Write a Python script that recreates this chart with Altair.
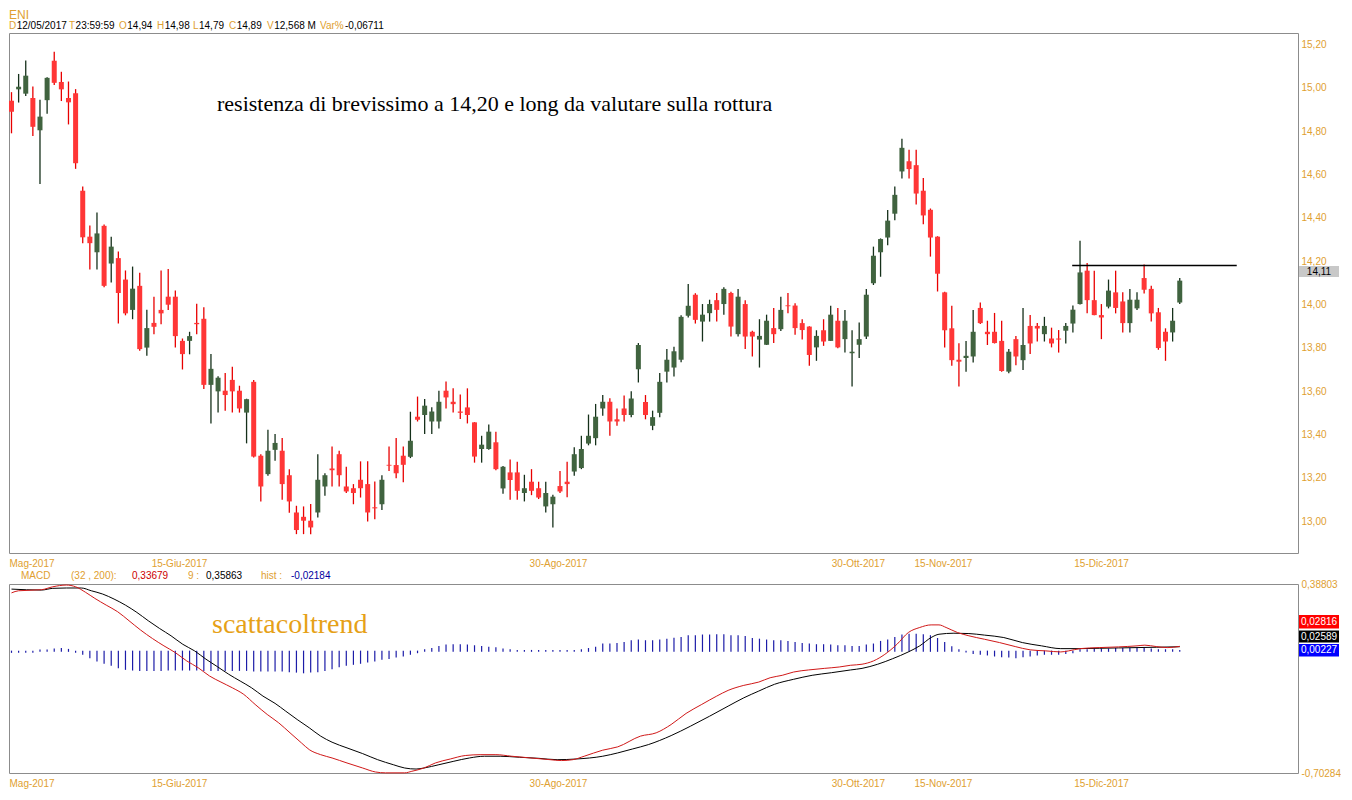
import altair as alt
import pandas as pd

# ---------------- candle data (index 0 = 12/05/2017) ----------------
opens = [14.94, 14.993, 14.973, 14.953, 14.804, 14.943, 15.125, 15.027, 14.953, 14.975,
         14.525, 14.313, 14.241, 14.363, 14.189, 14.214, 14.115, 13.975, 14.086, 13.801,
         13.915, 13.975, 14.036, 14.036, 13.832, 13.832, 13.915, 13.934, 13.629, 13.599,
         13.602, 13.652, 13.602, 13.501, 13.643, 13.302, 13.217, 13.329, 13.325, 13.212,
         13.040, 13.020, 13.002, 13.040, 13.160, 13.243, 13.309, 13.160, 13.152, 13.191,
         13.171, 13.064, 13.078, 13.260, 13.259, 13.302, 13.297, 13.482, 13.490, 13.460,
         13.460, 13.602, 13.551, 13.506, 13.525, 13.456, 13.333, 13.333, 13.364, 13.151,
         13.225, 13.225, 13.130, 13.182, 13.152, 13.068, 13.078, 13.162, 13.182, 13.229,
         13.245, 13.358, 13.383, 13.520, 13.551, 13.47, 13.52, 13.49, 13.701, 13.55,
         13.44, 13.50, 13.690, 13.709, 13.745, 13.948, 14.045, 13.921, 13.960, 14.020,
         14.002, 14.053, 13.863, 14.002, 13.874, 13.838, 13.814, 13.891, 13.886, 13.996,
         13.995, 13.914, 13.898, 13.802, 13.881, 13.832, 13.925, 13.840, 13.775, 13.814,
         13.852, 14.098, 14.241, 14.309, 14.419, 14.614, 14.661, 14.643, 14.525, 14.437,
         14.313, 14.056, 13.890, 13.745, 13.753, 13.760, 13.984, 13.874, 13.874, 13.832,
         13.690, 13.840, 13.743, 13.901, 13.901, 13.863, 13.843, 13.843, 13.879, 13.912,
         14.002, 14.156, 14.020, 13.951, 13.990, 14.056, 14.014, 13.914, 13.982, 14.122,
         14.072, 13.964, 13.874, 13.871, 14.009]
highs = [14.98, 15.064, 15.126, 15.006, 14.945, 15.049, 15.167, 15.074, 15.029, 14.994,
         14.544, 14.364, 14.424, 14.369, 14.313, 14.245, 14.157, 14.175, 14.146, 13.976,
         14.036, 14.157, 14.164, 14.064, 13.843, 13.874, 14.003, 13.987, 13.772, 13.669,
         13.684, 13.713, 13.625, 13.565, 13.651, 13.309, 13.422, 13.402, 13.384, 13.240,
         13.071, 13.068, 13.079, 13.309, 13.221, 13.344, 13.325, 13.251, 13.171, 13.276,
         13.276, 13.183, 13.212, 13.344, 13.384, 13.344, 13.505, 13.575, 13.564, 13.526,
         13.602, 13.644, 13.613, 13.584, 13.613, 13.457, 13.394, 13.446, 13.413, 13.255,
         13.284, 13.274, 13.214, 13.240, 13.182, 13.182, 13.122, 13.232, 13.274, 13.341,
         13.394, 13.492, 13.541, 13.582, 13.567, 13.52, 13.58, 13.60, 13.822, 13.582,
         13.51, 13.684, 13.795, 13.805, 13.950, 14.094, 14.052, 14.002, 14.022, 14.053,
         14.079, 14.059, 14.072, 14.020, 13.879, 13.932, 13.953, 13.984, 14.036, 14.053,
         14.006, 13.932, 13.900, 13.881, 13.932, 13.994, 13.984, 13.975, 13.881, 13.917,
         14.072, 14.267, 14.305, 14.436, 14.544, 14.765, 14.714, 14.714, 14.584, 14.443,
         14.315, 14.059, 13.994, 13.821, 13.832, 13.975, 14.009, 13.925, 13.961, 13.925,
         13.795, 13.855, 13.984, 13.951, 13.914, 13.943, 13.893, 13.882, 13.914, 13.995,
         14.294, 14.192, 14.156, 14.002, 14.115, 14.156, 14.056, 14.072, 14.056, 14.184,
         14.087, 13.984, 13.890, 13.984, 14.122]
lows = [14.79, 14.932, 14.962, 14.778, 14.556, 14.880, 15.013, 14.939, 14.831, 14.626,
        14.283, 14.161, 14.161, 14.079, 14.101, 13.912, 13.950, 13.932, 13.787, 13.763,
        13.863, 13.909, 13.975, 13.801, 13.70, 13.77, 13.863, 13.61, 13.451, 13.501,
        13.509, 13.501, 13.501, 13.359, 13.294, 13.091, 13.209, 13.279, 13.099, 13.039,
        12.940, 12.940, 12.940, 13.017, 13.117, 13.160, 13.160, 13.130, 13.078, 13.109,
        12.998, 13.009, 13.051, 13.232, 13.198, 13.179, 13.291, 13.460, 13.402, 13.402,
        13.428, 13.520, 13.501, 13.471, 13.451, 13.270, 13.270, 13.329, 13.235, 13.127,
        13.099, 13.099, 13.091, 13.120, 13.102, 13.040, 12.971, 13.130, 13.110, 13.209,
        13.240, 13.350, 13.350, 13.487, 13.394, 13.44, 13.46, 13.48, 13.640, 13.47,
        13.42, 13.48, 13.640, 13.668, 13.733, 13.940, 13.912, 13.829, 13.921, 13.921,
        13.953, 13.852, 13.852, 13.794, 13.760, 13.709, 13.813, 13.822, 13.878, 13.959,
        13.860, 13.838, 13.717, 13.740, 13.809, 13.831, 13.798, 13.778, 13.621, 13.753,
        13.841, 14.090, 14.128, 14.273, 14.389, 14.582, 14.582, 14.462, 14.370, 14.221,
        14.060, 13.802, 13.717, 13.621, 13.690, 13.732, 13.910, 13.813, 13.820, 13.690,
        13.683, 13.720, 13.698, 13.771, 13.829, 13.829, 13.802, 13.778, 13.820, 13.871,
        14.000, 13.959, 13.950, 13.840, 13.982, 13.959, 13.871, 13.871, 13.975, 14.051,
        13.921, 13.791, 13.740, 13.829, 14.002]
closes = [14.89, 15.005, 15.056, 14.820, 14.867, 15.046, 15.023, 14.993, 14.933, 14.652,
          14.310, 14.283, 14.328, 14.086, 14.267, 14.053, 13.959, 14.073, 13.794, 13.891,
          13.897, 13.959, 13.999, 13.854, 13.771, 13.854, 13.909, 13.629, 13.703, 13.662,
          13.582, 13.599, 13.520, 13.563, 13.298, 13.160, 13.325, 13.361, 13.171, 13.091,
          12.959, 13.002, 12.971, 13.191, 13.212, 13.235, 13.212, 13.137, 13.130, 13.152,
          13.040, 13.059, 13.191, 13.256, 13.221, 13.260, 13.371, 13.468, 13.533, 13.506,
          13.551, 13.571, 13.540, 13.500, 13.490, 13.298, 13.353, 13.413, 13.240, 13.251,
          13.190, 13.140, 13.152, 13.140, 13.109, 13.130, 13.113, 13.137, 13.171, 13.309,
          13.333, 13.394, 13.482, 13.551, 13.460, 13.46, 13.49, 13.566, 13.813, 13.49,
          13.48, 13.643, 13.745, 13.784, 13.943, 13.994, 13.929, 13.953, 14.002, 13.975,
          14.072, 13.898, 14.036, 13.852, 13.852, 13.855, 13.925, 13.863, 13.975, 13.992,
          13.891, 13.882, 13.767, 13.855, 13.829, 13.953, 13.802, 13.925, 13.782, 13.840,
          14.045, 14.225, 14.302, 14.387, 14.506, 14.723, 14.625, 14.512, 14.411, 14.309,
          14.142, 13.881, 13.743, 13.736, 13.763, 13.874, 13.914, 13.863, 13.822, 13.693,
          13.782, 13.760, 13.813, 13.820, 13.889, 13.901, 13.820, 13.838, 13.901, 13.976,
          14.148, 14.020, 13.951, 13.940, 14.064, 13.984, 13.914, 14.022, 14.022, 14.068,
          13.959, 13.799, 13.829, 13.925, 14.11]

# resistance line drawn on the chart
resist_level = 14.18
resist_from = 148.9
resist_to = 172.0

# axis ticks / labels
date_pos = [2.81, 23.51, 76.72, 118.83, 130.76, 152.95]
date_labels = ["Mag-2017", "15-Giu-2017", "30-Ago-2017", "30-Ott-2017", "15-Nov-2017", "15-Dic-2017"]
price_ticks = [13.0, 13.1, 13.2, 13.3, 13.4, 13.5, 13.6, 13.7, 13.8, 13.9, 14.0,
               14.1, 14.2, 14.3, 14.4, 14.5, 14.6, 14.7, 14.8, 14.9, 15.0, 15.1, 15.2]
macd_ticks = [-0.70284, 0.38803]

# ---------------- MACD (32,200,9) ----------------
macd_pts = [(0, 0.33679), (1.0, 0.349), (4.2, 0.355), (5.8, 0.372), (7.7, 0.382), (9.0, 0.372),
            (10.4, 0.340), (11.7, 0.305), (13.3, 0.266), (14.9, 0.228), (16.5, 0.176), (18.1, 0.123),
            (19.8, 0.073), (21.4, 0.031), (23.0, -0.008), (24.6, -0.056), (26.2, -0.095), (27.8, -0.143),
            (29.4, -0.178), (31.0, -0.211), (32.6, -0.249), (34.2, -0.307), (35.9, -0.365), (37.5, -0.413),
            (39.1, -0.471), (40.7, -0.529), (41.8, -0.568), (43.4, -0.597), (45.0, -0.616), (47.1, -0.645),
            (49.3, -0.674), (51.1, -0.697), (52.5, -0.702), (55.2, -0.702), (56.2, -0.693), (57.9, -0.674),
            (59.5, -0.645), (61.6, -0.622), (63.7, -0.602), (65.9, -0.597), (68.0, -0.597), (70.2, -0.606),
            (72.9, -0.616), (75.6, -0.626), (77.2, -0.631), (78.8, -0.626), (80.4, -0.606), (83.0, -0.571),
            (85.1, -0.552), (88.3, -0.490), (90.5, -0.471), (92.6, -0.423), (94.7, -0.359), (96.9, -0.307),
            (99.0, -0.259), (100.6, -0.226), (102.8, -0.197), (104.9, -0.178), (106.5, -0.153), (108.2, -0.139),
            (109.8, -0.120), (111.9, -0.108), (114.1, -0.099), (116.2, -0.091), (117.8, -0.081), (119.4, -0.075),
            (121.0, -0.056), (122.6, -0.018), (124.3, 0.040), (125.9, 0.108), (127.5, 0.137), (129.1, 0.152),
            (130.2, 0.152), (131.2, 0.137), (132.8, 0.108), (134.4, 0.089), (136.6, 0.069), (138.7, 0.050),
            (140.9, 0.027), (143.0, 0.008), (145.2, 0.002), (147.3, -0.004), (148.4, 0.002), (150.0, 0.015),
            (152.7, 0.021), (155.4, 0.025), (158.0, 0.031), (159.1, 0.035), (160.7, 0.027), (162.3, 0.021),
            (164, 0.02816)]
signal_pts = [(0, 0.35863), (4.2, 0.353), (5.8, 0.363), (7.7, 0.365), (9.8, 0.365), (11.2, 0.349),
              (12.8, 0.330), (14.4, 0.301), (16.0, 0.266), (17.6, 0.224), (19.2, 0.176), (20.8, 0.131),
              (22.4, 0.089), (24.05, 0.040), (25.7, 0.002), (27.3, -0.046), (28.9, -0.089), (30.5, -0.133),
              (32.1, -0.172), (33.7, -0.211), (35.3, -0.259), (37.0, -0.301), (38.5, -0.346), (40.1, -0.394),
              (41.8, -0.442), (43.4, -0.490), (45.0, -0.525), (47.1, -0.558), (49.3, -0.591), (51.4, -0.626),
              (53.6, -0.655), (55.2, -0.674), (56.8, -0.680), (57.9, -0.674), (60.0, -0.655), (62.1, -0.635),
              (64.3, -0.616), (66.4, -0.606), (68.6, -0.606), (71.3, -0.612), (74.0, -0.618), (76.6, -0.626),
              (79.3, -0.622), (83.0, -0.606), (85.1, -0.587), (87.2, -0.564), (89.4, -0.539), (92.6, -0.487),
              (95.3, -0.433), (98.0, -0.375), (100.6, -0.317), (102.8, -0.269), (104.9, -0.230), (107.1, -0.191),
              (109.8, -0.162), (112.4, -0.139), (115.1, -0.124), (117.8, -0.108), (119.4, -0.099), (121.6, -0.075),
              (123.7, -0.043), (125.9, -0.004), (127.5, 0.031), (129.1, 0.079), (130.2, 0.098), (132.3, 0.104),
              (134.4, 0.102), (136.6, 0.093), (139.3, 0.079), (141.9, 0.050), (144.6, 0.031), (147.3, 0.015),
              (150.0, 0.015), (152.7, 0.017), (155.4, 0.019), (158.0, 0.021), (160.7, 0.023), (164, 0.02589)]
hist = [-0.006, -0.006, -0.006, -0.006, 0.006, 0.006, 0.012, 0.015, 0.010, -0.006,
        -0.017, -0.037, -0.056, -0.069, -0.081, -0.095, -0.104, -0.108, -0.110, -0.110,
        -0.110, -0.110, -0.108, -0.108, -0.108, -0.108, -0.108, -0.110, -0.110, -0.110,
        -0.110, -0.110, -0.110, -0.110, -0.114, -0.114, -0.114, -0.114, -0.114, -0.118,
        -0.120, -0.124, -0.120, -0.118, -0.110, -0.100, -0.089, -0.081, -0.075, -0.069,
        -0.062, -0.056, -0.046, -0.041, -0.033, -0.027, -0.017, -0.008, 0.008, 0.015,
        0.027, 0.035, 0.037, 0.037, 0.035, 0.031, 0.027, 0.023, 0.019, 0.012,
        0.008, 0.004, 0.004, 0.004, 0.004, 0.004, 0.004, 0.004, 0.004, 0.004,
        0.008, 0.015, 0.023, 0.041, 0.041, 0.044, 0.050, 0.060, 0.064, 0.060,
        0.060, 0.064, 0.069, 0.075, 0.079, 0.089, 0.089, 0.093, 0.093, 0.095,
        0.095, 0.089, 0.089, 0.085, 0.073, 0.069, 0.064, 0.060, 0.060, 0.056,
        0.050, 0.044, 0.041, 0.037, 0.037, 0.035, 0.031, 0.031, 0.027, 0.027,
        0.035, 0.041, 0.056, 0.064, 0.079, 0.093, 0.098, 0.098, 0.095, 0.089,
        0.073, 0.050, 0.025, 0.008, -0.004, -0.012, -0.017, -0.021, -0.027, -0.031,
        -0.033, -0.037, -0.031, -0.027, -0.021, -0.017, -0.017, -0.017, -0.012, -0.008,
        0.008, 0.008, 0.012, 0.012, 0.012, 0.015, 0.015, 0.015, 0.015, 0.015,
        0.012, 0.008, 0.008, 0.008, 0.004]

macd_first, signal_first, hist_first = 0.33679, 0.35863, -0.02184
macd_last, signal_last, hist_last = 0.02816, 0.02589, 0.00227

# header of the quote
hdr_date, hdr_time = "12/05/2017", "23:59:59"
hdr_o, hdr_h, hdr_l, hdr_c = 14.94, 14.98, 14.79, 14.89
hdr_vol = "12,568 M"
hdr_var = -0.06711

annotation = "resistenza di brevissimo a 14,20 e long da valutare sulla rottura"
watermark = "scattacoltrend"

# ---------------- styling ----------------
W, H1, H2 = 1289, 520, 189
XDOM = [-0.35, 180.6]
ORANGE = "#E0A030"
FONT = "Liberation Sans"
SERIF = "Liberation Serif"
UP_BODY, UP_WICK = "#40633F", "#15301A"
DN_BODY, DN_WICK = "#FF3636", "#E80000"


def it(v, d):
    s = f"{abs(v):.{d}f}".replace(".", ",")
    return ("-" if v < 0 else "") + s


n = min(len(opens), len(highs), len(lows), len(closes))
candles = pd.DataFrame({"i": list(range(n)), "o": opens[:n], "h": highs[:n],
                        "l": lows[:n], "c": closes[:n]})
one = pd.DataFrame({"k": [0]})

label_expr = "''"
for p, lab in reversed(list(zip(date_pos, date_labels))):
    label_expr = f"abs(datum.value - ({p})) < 0.5 ? '{lab}' : ({label_expr})"

xscale = alt.Scale(domain=XDOM, nice=False, zero=False, padding=0)


def xaxis(pad):
    return alt.Axis(values=date_pos, labelExpr=label_expr, title=None, ticks=False, domain=False,
                    grid=False, labelColor=ORANGE, labelFont=FONT, labelFontSize=10,
                    labelPadding=pad, labelFlush=False, labelOverlap=False)


def txt(s, x, y, color, size=10, font=FONT, baseline="middle", align="left"):
    return alt.Chart(one).mark_text(text=s, align=align, baseline=baseline, font=font,
                                    fontSize=size, color=color).encode(
        x=alt.value(x), y=alt.value(y))


# ---------------- price panel ----------------
yaxis_top = alt.Axis(values=price_ticks, orient="right", title=None, ticks=False, domain=False,
                     grid=False, labelColor=ORANGE, labelFont=FONT, labelFontSize=10,
                     labelPadding=3, labelOverlap=False,
                     labelExpr="replace(format(datum.value, '.2f'), '.', ',')")
yscale_top = alt.Scale(domain=[12.853, 15.253], nice=False, zero=False, padding=0)

is_up = "datum.c >= datum.o"
base = alt.Chart(candles)
wicks = base.mark_rule(strokeWidth=1.3).encode(
    x=alt.X("i:Q", scale=xscale, axis=xaxis(5), title=None),
    y=alt.Y("l:Q", scale=yscale_top, axis=yaxis_top, title=None),
    y2="h:Q",
    color=alt.condition(is_up, alt.value(UP_WICK), alt.value(DN_WICK)))
bodies = base.mark_bar(size=5).encode(
    x=alt.X("i:Q", title=None), y=alt.Y("o:Q", title=None), y2="c:Q",
    color=alt.condition(is_up, alt.value(UP_BODY), alt.value(DN_BODY)))

res_df = pd.DataFrame({"x1": [resist_from], "x2": [resist_to], "y": [resist_level]})
resist = alt.Chart(res_df).mark_rule(color="black", strokeWidth=1.3).encode(
    x=alt.X("x1:Q", title=None), x2="x2:Q", y=alt.Y("y:Q", title=None))

annot = txt(annotation, 208, 78, "black", size=22, font=SERIF, baseline="alphabetic")

hdr_pieces = [("D", 0, ORANGE), (hdr_date, 7.7, "black"), ("T", 60, ORANGE), (hdr_time, 66.6, "black"),
              ("O", 110, ORANGE), (it(hdr_o, 2), 118.3, "black"), ("H", 148, ORANGE), (it(hdr_h, 2), 155.7, "black"),
              ("L", 184, ORANGE), (it(hdr_l, 2), 190, "black"), ("C", 220, ORANGE), (it(hdr_c, 2), 227.7, "black"),
              ("V", 258, ORANGE), (hdr_vol, 265.2, "black"), ("Var%", 311, ORANGE), (it(hdr_var, 5), 336, "black")]
header = [txt("ENI", 0, -23, ORANGE, size=12, baseline="top")]
header += [txt(s, x, -12, c, baseline="top") for s, x, c in hdr_pieces]

last_box = alt.Chart(one).mark_rect(color="#C8C8C8").encode(
    x=alt.value(1290), x2=alt.value(1330), y=alt.value(233), y2=alt.value(244))
last_txt = txt(it(closes[n - 1], 2), 1310, 238.5, "black", align="center")

top = alt.layer(wicks, bodies, resist, annot, *header, last_box, last_txt).properties(width=W, height=H1)

# ---------------- MACD panel ----------------
yscale_m = alt.Scale(domain=[macd_ticks[0], macd_ticks[1]], nice=False, zero=False, padding=0)
yaxis_m = alt.Axis(values=macd_ticks, orient="right", title=None, ticks=False, domain=False, grid=False,
                   labelColor=ORANGE, labelFont=FONT, labelFontSize=10, labelPadding=3, labelOverlap=False,
                   labelExpr="(datum.value < 0 ? '-' : '') + replace(format(abs(datum.value), '.5f'), '.', ',')")

hist_df = pd.DataFrame({"i": list(range(len(hist))), "h": hist, "z": [0.0] * len(hist)})
macd_df = pd.DataFrame(macd_pts, columns=["i", "v"])
sig_df = pd.DataFrame(signal_pts, columns=["i", "v"])

hist_l = alt.Chart(hist_df).mark_rule(color="#1C1CA8", strokeWidth=1.2, strokeCap="square").encode(
    x=alt.X("i:Q", scale=xscale, axis=xaxis(5), title=None),
    y=alt.Y("h:Q", scale=yscale_m, axis=yaxis_m, title=None),
    y2="z:Q")
sig_l = alt.Chart(sig_df).mark_line(color="black", strokeWidth=1, interpolate="monotone").encode(
    x=alt.X("i:Q", title=None), y=alt.Y("v:Q", title=None))
macd_l = alt.Chart(macd_df).mark_line(color="#D01818", strokeWidth=1, interpolate="monotone").encode(
    x=alt.X("i:Q", title=None), y=alt.Y("v:Q", title=None))

wm = txt(watermark, 203, 49, "#E6A117", size=28, font=SERIF, baseline="alphabetic")

leg = [txt("MACD", 12, -8, ORANGE), txt("(32 , 200):", 62, -8, ORANGE),
       txt(it(macd_first, 5), 123, -8, "#CC0000"), txt("9 :", 179, -8, ORANGE),
       txt(it(signal_first, 5), 197, -8, "black"), txt("hist :", 252, -8, ORANGE),
       txt(it(hist_first, 5), 282, -8, "#0000A0")]

boxes = []
for (y0, y1, col, val) in [(31, 44.5, "#FF0000", macd_last), (46.5, 58.5, "#000000", signal_last),
                           (60, 72.5, "#0000FF", hist_last)]:
    boxes.append(alt.Chart(one).mark_rect(color=col).encode(
        x=alt.value(1290), x2=alt.value(1330), y=alt.value(y0), y2=alt.value(y1)))
    boxes.append(txt(it(val, 5), 1310, (y0 + y1) / 2, "white", align="center"))

macd = alt.layer(hist_l, sig_l, macd_l, wm, *leg, *boxes).properties(width=W, height=H2)

chart = alt.vconcat(top, macd, spacing=31, bounds="flush").properties(
    padding={"left": 0, "top": 0, "right": 0, "bottom": 0}
).configure(background="white").configure_view(stroke="#8C8C8C", strokeWidth=1)

chart.save("out.html", embed_options={"renderer": "svg", "actions": False})
